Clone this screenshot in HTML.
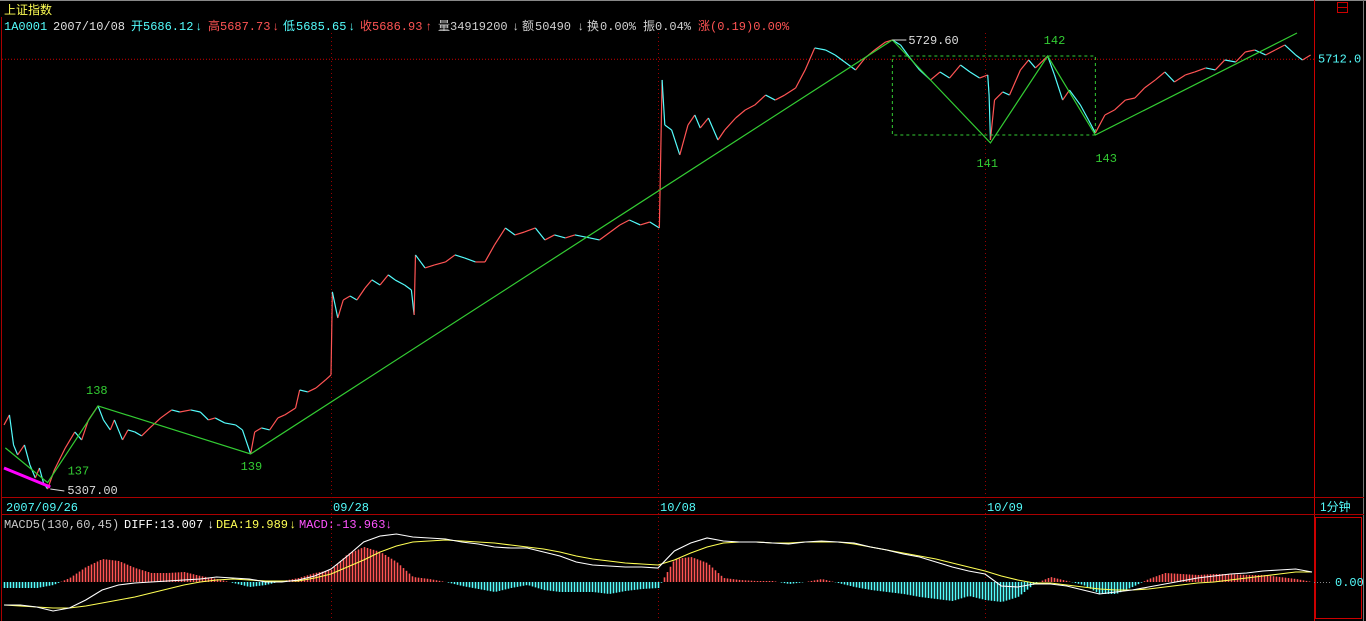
<!DOCTYPE html>
<html><head><meta charset="utf-8">
<style>
html,body{margin:0;padding:0;background:#000;width:1366px;height:621px;overflow:hidden}
svg{display:block}
text{font-family:"Liberation Mono","Noto Sans CJK SC",monospace;font-size:12px}
.cjk{font-family:"Liberation Sans","Noto Sans CJK SC",sans-serif}
</style></head>
<body>
<svg id="chart" width="1366" height="621" viewBox="0 0 1366 621" xmlns="http://www.w3.org/2000/svg">
<rect x="0" y="0" width="1366" height="621" fill="#000"/>
<line x1="0" y1="0.5" x2="1366" y2="0.5" stroke="#888"/>
<text x="4" y="14" fill="#ffff54" class="cjk" font-size="14">上证指数</text>
<g>
<text x="4" y="30" fill="#54fcfc">1A0001</text>
<text x="53" y="30" fill="#e0e0e0">2007/10/08</text>
<text x="131" y="30" fill="#54fcfc" class="cjk">开</text><text x="143" y="30" fill="#54fcfc">5686.12</text><text x="195" y="30" fill="#54fcfc">↓</text>
<text x="208" y="30" fill="#ff5454" class="cjk">高</text><text x="220" y="30" fill="#ff5454">5687.73</text><text x="272" y="30" fill="#ff5454">↓</text>
<text x="283" y="30" fill="#54fcfc" class="cjk">低</text><text x="296" y="30" fill="#54fcfc">5685.65</text><text x="348" y="30" fill="#54fcfc">↓</text>
<text x="360" y="30" fill="#ff5454" class="cjk">收</text><text x="372" y="30" fill="#ff5454">5686.93</text><text x="425" y="30" fill="#ff5454">↑</text>
<text x="438" y="30" fill="#d0d0d0" class="cjk">量</text><text x="450" y="30" fill="#d0d0d0">34919200</text><text x="512" y="30" fill="#d0d0d0">↓</text>
<text x="522" y="30" fill="#d0d0d0" class="cjk">额</text><text x="535" y="30" fill="#d0d0d0">50490</text><text x="577" y="30" fill="#d0d0d0">↓</text>
<text x="587" y="30" fill="#d0d0d0" class="cjk">换</text><text x="600" y="30" fill="#d0d0d0">0.00%</text>
<text x="643" y="30" fill="#d0d0d0" class="cjk">振</text><text x="655" y="30" fill="#d0d0d0">0.04%</text>
<text x="698" y="30" fill="#ff5454" class="cjk">涨</text><text x="710" y="30" fill="#ff5454">(0.19)0.00%</text>
</g>
<rect x="1337.5" y="2.5" width="10" height="10" fill="none" stroke="#c00"/>
<line x1="1337" y1="7.5" x2="1348" y2="7.5" stroke="#c00"/>
<g id="frame">
<line x1="1.5" y1="17" x2="1.5" y2="621" stroke="#a00"/>
<line x1="1314.5" y1="0" x2="1314.5" y2="621" stroke="#c00"/>
<line x1="1363.5" y1="0" x2="1363.5" y2="621" stroke="#777"/>
<line x1="1" y1="497.5" x2="1364" y2="497.5" stroke="#a00"/>
<line x1="1" y1="514.5" x2="1364" y2="514.5" stroke="#a00"/>
<rect x="1315.5" y="517.5" width="46" height="101" fill="none" stroke="#c00"/>
</g>
<g id="grid"></g>
<g id="price"></g>
<g id="zig"></g>
<g id="axis"></g>
<g>
<text x="4" y="528" fill="#c8c8c8">MACD5(130,60,45)</text>
<text x="124" y="528" fill="#fff">DIFF:13.007</text><text x="207" y="528" fill="#fff">↓</text>
<text x="216" y="528" fill="#ffff54">DEA:19.989</text><text x="289" y="528" fill="#ffff54">↓</text>
<text x="299" y="528" fill="#ff54ff">MACD:-13.963</text><text x="385" y="528" fill="#ff54ff">↓</text>
</g>
<g id="macd"></g>
<text x="1320" y="511" fill="#54fcfc" class="cjk" font-size="13">1分钟</text>
</svg>
<script>
// price series: minutes from start, price
const priceT = [0,4,7,10,15,19,23,26,29,32,37,45,52,57,62,69,73,78,81,87,91,96,101,107,115,123,129,137,144,150,155,162,170,175,181,184,189,195,201,206,214,217,223,229,236,240,
241,245,249,254,259,265,270,276,282,287,294,299,301,302,309,316,324,331,338,346,353,360,368,375,382,390,397,404,412,419,430,437,445,452,459,467,474,481,
483,485,490,496,502,507,511,517,524,529,537,544,551,559,566,573,581,588,595,603,610,617,625,632,639,647,652,658,665,672,680,687,694,702,709,716,722,
723,724,727,733,738,746,752,757,766,771,777,782,790,796,801,808,815,823,830,837,845,852,859,867,874,882,889,896,904,911,918,926,933,940,948,953,959];
const priceP = [5367.3,5376.7,5348.5,5339.1,5348.5,5329.7,5317.4,5326.8,5312.7,5307,5325,5345.7,5360.7,5353.2,5372,5385.2,5372,5362.6,5372,5353.2,5362.6,5360.7,5357,5364.5,5373.9,5381.4,5379.5,5381.4,5379.5,5372,5373.9,5369.2,5367.3,5362.6,5340,5360.7,5364.5,5362.6,5373.9,5376.7,5383.3,5400.2,5398.4,5402.1,5409.7,5414.4,
5492.5,5468,5484.9,5488.7,5484.9,5496.2,5503.8,5499,5508.5,5503.8,5499,5494.3,5470.8,5527.3,5515.1,5517.9,5520.7,5527.3,5524.5,5520.7,5520.7,5536.7,5552.7,5546.1,5548.9,5552.7,5541.4,5546.1,5543.3,5546.1,5543.3,5541.4,5548.9,5555.5,5560.2,5555.5,5558.3,5552.7,
5692,5649.6,5644.9,5621.4,5649.6,5659,5646.8,5656.2,5635.5,5644.9,5656.2,5663.7,5668.4,5677.8,5673.1,5677.8,5684.4,5701.4,5722.1,5720.2,5715.5,5708.9,5701.4,5712.7,5720.2,5727.7,5729.6,5724.9,5712.7,5701.4,5692,5699.5,5693.8,5706.1,5699.5,5693.8,5696.7,
5677.8,5635.5,5673.1,5680.7,5677.8,5701.4,5710.8,5703.3,5714.5,5696.7,5673.1,5682.5,5668.4,5654.3,5642.1,5659,5663.7,5673.1,5675,5684.4,5692,5699.5,5690.1,5696.7,5699.5,5703.3,5701.4,5710.8,5708.9,5718.3,5720.2,5715.5,5720.2,5724.9,5715.5,5710.8,5715.5];
// zigzag pivots
const pivotT = [1,32,69,181,652,724,766,801,949];
const pivotP = [5345.7,5313,5385.2,5340,5729.6,5632.7,5714.5,5640.2,5736.2];
const pivotLabels = ["","137","138","139","5729.60","141","142","143",""];
const trendT = [0,34];
const trendP = [5326.8,5308.9];
const lowLabel = "5307.00", lowT = 34, lowP = 5307;
const lastPrice = 5712.0;
const dayLabels = ["2007/09/26","09/28","10/08","10/09"];
const dayStartT = [0,240,480,720];
// MACD sampled every 12 minutes
const macdStep = 12;
const histVals = [-6,-6,-6,-3,4,15,23,21,14,9,9,10,6,3,-1,-5,-3,1,4,9,12,28,35,30,20,5,3,0,-4,-7,-10,-6,-3,-8,-10,-10,-10,-12,-9,-7,-6,23,25,19,4,2,1,1,-2,0,3,-1,-5,-8,-10,-12,-15,-17,-19,-14,-18,-20,-15,-2,5,1,-3,-12,-12,-5,3,9,8,7,8,8,7,7,5,3,0];
const diffVals = [-23,-23,-25,-29,-26,-18,-8,-3,-1,0,1,2,3,5,4,3,0,0,2,6,13,26,40,46,48,45,44,43,40,38,35,34,34,30,26,20,17,16,15,15,14,31,39,44,41,40,40,39,38,40,41,40,39,35,32,28,25,20,15,11,8,-4,-5,-2,-2,-4,-8,-12,-10,-8,-5,-2,1,4,6,8,9,11,12,13,10];
const deaVals = [-23,-24,-25,-26,-26,-24,-21,-18,-15,-11,-7,-3,0,2,3,2,1,1,1,4,8,15,22,30,36,40,41,42,41,40,39,37,35,33,30,26,23,21,19,18,17,22,29,35,39,40,40,39,39,40,40,40,38,35,32,29,26,23,19,15,11,6,2,-1,-1,-3,-5,-7,-8,-8,-7,-5,-3,-1,0,2,4,6,8,10,10];

const NS="http://www.w3.org/2000/svg";
const X = t => 4 + t*1.3625;
const Y = p => 40 + (5729.6 - p)*1.0625;
const MZ = 582, MY = v => MZ - v;
function mk(tag, attrs, parent){const e=document.createElementNS(NS,tag);for(const k in attrs)e.setAttribute(k,attrs[k]);parent.appendChild(e);return e;}

// grid
const grid=document.getElementById('grid');
const hl=mk('line',{x1:2,x2:1314,y1:Y(lastPrice)+0.5,y2:Y(lastPrice)+0.5,stroke:'#c00','stroke-dasharray':'1,2'},grid);


dayStartT.forEach((t,i)=>{ if(i===0) return;
  const v=mk('line',{x1:X(t)+0.5,x2:X(t)+0.5,y1:33,y2:621,stroke:'#900','stroke-dasharray':'1,3'},grid);
  
  
});
const lp=mk('text',{x:1318,y:Y(lastPrice)+4,fill:'#54fcfc'},grid);
lp.textContent=lastPrice.toFixed(1);



// price
const pg=document.getElementById('price');
for(let i=1;i<priceT.length;i++){
  const up=priceP[i]>=priceP[i-1];
  const s=mk('line',{x1:X(priceT[i-1]),y1:Y(priceP[i-1]),x2:X(priceT[i]),y2:Y(priceP[i]),stroke:up?'#ff5454':'#54fcfc','stroke-width':1.2},pg);
  
  
}

// zigzag
const zg=document.getElementById('zig');
const tl=mk('line',{x1:X(trendT[0]),y1:Y(trendP[0]),x2:X(trendT[1]),y2:Y(trendP[1]),stroke:'#ff00ff','stroke-width':3},zg);


const box=mk('rect',{x:X(pivotT[4]),y:Y(pivotP[6]),width:X(pivotT[7])-X(pivotT[4]),height:Y(pivotP[7])-Y(pivotP[6]),fill:'none',stroke:'#3c3','stroke-dasharray':'3,3'},zg);


const zl=mk('polyline',{points:pivotT.map((t,i)=>X(t)+','+Y(pivotP[i])).join(' '),fill:'none',stroke:'#3c3','stroke-width':1.2},zg);


const offs=[[0,0],[20,-8],[-12,-12],[-10,16],[null],[-14,24],[-4,-12],[0,27],[0,0]];
pivotLabels.forEach((lab,i)=>{ if(!lab) return;
  let tx,ty,fill='#3c3';
  if(lab.indexOf('.')>0){ // price label
    const ln=mk('line',{x1:X(pivotT[i]),y1:Y(pivotP[i]),x2:X(pivotT[i])+14,y2:Y(pivotP[i]),stroke:'#ddd'},zg);
    
    
    tx=X(pivotT[i])+16; ty=Y(pivotP[i])+4; fill='#ddd';
  } else { tx=X(pivotT[i])+offs[i][0]; ty=Y(pivotP[i])+offs[i][1]; }
  const t=mk('text',{x:tx,y:ty,fill:fill,'font-size':lab.indexOf('.')>0?12:13},zg);
  t.textContent=lab;
  
  
});
const ll=mk('line',{x1:X(lowT),y1:Y(lowP),x2:X(lowT)+14,y2:Y(lowP)+2,stroke:'#ddd'},zg);


const lt=mk('text',{x:X(lowT)+17,y:Y(lowP)+5,fill:'#ddd'},zg);
lt.textContent=lowLabel;



// axis
const ax=document.getElementById('axis');
dayLabels.forEach((d,i)=>{
  const t=mk('text',{x:X(dayStartT[i])+2,y:511,fill:'#54fcfc'},ax);
  t.textContent=d;
  
  
});

// MACD
const mg=document.getElementById('macd');
const zl2=mk('line',{x1:1314,x2:1330,y1:MZ+0.5,y2:MZ+0.5,stroke:'#888','stroke-dasharray':'1,2'},mg);


const zt=mk('text',{x:1335,y:MZ+4,fill:'#54fcfc'},mg);
zt.textContent='0.00';


const maxT=(histVals.length-1)*macdStep;
function sampleAt(arr,t){const f=t/macdStep;const i=Math.min(Math.floor(f),arr.length-2);const r=f-i;return arr[i]*(1-r)+arr[i+1]*r;}
for(let x=4;x<=X(maxT);x+=3){
  const t=(x-4)/1.3625; const v=sampleAt(histVals,t);
  const b=mk('line',{x1:x+0.5,x2:x+0.5,y1:MZ,y2:MY(v),stroke:v>=0?'#ff5454':'#54fcfc','stroke-width':1.6},mg);
  
  
}
const dl=mk('polyline',{points:deaVals.map((v,i)=>X(i*macdStep)+','+MY(v)).join(' '),fill:'none',stroke:'#ffff54','stroke-width':1.1},mg);


const fl=mk('polyline',{points:diffVals.map((v,i)=>X(i*macdStep)+','+MY(v)).join(' '),fill:'none',stroke:'#fff','stroke-width':1.1},mg);


</script>
</body></html>
